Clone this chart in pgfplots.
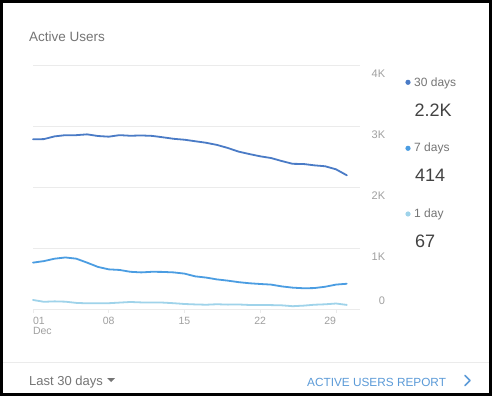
\documentclass[border=0pt]{standalone}
\usepackage{pgfplots}
\pgfplotsset{compat=1.18}
\usepackage{fontspec}
\setmainfont{Liberation Sans}
\definecolor{c30}{HTML}{4A7BC6}
\definecolor{c7}{HTML}{4B9DE2}
\definecolor{c1}{HTML}{9FD3EA}
\definecolor{gridc}{HTML}{EBEBEB}
\definecolor{ticktxt}{HTML}{A0A0A0}
\definecolor{titletxt}{HTML}{757575}
\definecolor{numtxt}{HTML}{424242}
\definecolor{linktxt}{HTML}{5C9BD8}
\begin{document}
\begin{tikzpicture}[x=1pt,y=1pt]
\fill[black] (0,0) rectangle (492,396);
\fill[white] (3,3) rectangle (489,393);
\node[anchor=base west, inner sep=0pt, text=titletxt, font=\fontsize{13.5}{16}\selectfont] at (29,354) {Active Users};
\begin{axis}[
  at={(33pt,87pt)}, anchor=origin,
  scale only axis, width=313.8pt, height=244pt,
  xmin=1, xmax=30, ymin=0, ymax=4000,
  clip=false,
  axis line style={draw=none},
  /pgf/number format/assume math mode=true,
  ytick={1000,2000,3000,4000},
  yticklabels={1K,2K,3K,4K},
  yticklabel pos=right,
  ymajorgrids, major grid style={gridc, line width=0.8pt},
  ytick style={draw=none},
  yticklabel style={anchor=north east, inner sep=0pt, xshift=34.5pt, yshift=-4.5pt, text=ticktxt, font=\fontsize{11}{13}\selectfont},
  extra y ticks={0}, extra y tick labels={0},
  extra y tick style={grid=major, yticklabel style={anchor=base east, yshift=8.5pt}},
  xtick={1,8,15,22,29},
  xtick pos=bottom,
  xticklabels={\makebox[0pt][l]{\shortstack[l]{01\\Dec}},08,15,22,\makebox[0pt][r]{29}},
  xticklabel style={anchor=north, inner sep=0pt, yshift=-4pt, text=ticktxt, font=\fontsize{10.5}{12}\selectfont},
  xtick style={draw=gridc, line width=0.8pt},
  tick align=outside, major tick length=4pt,
  every axis plot/.append style={line width=1.8pt, line join=round, line cap=round, no markers},
]
\addplot[c30] coordinates {(1,2782)(2,2785)(3,2830)(4,2850)(5,2850)(6,2863)(7,2836)(8,2825)(9,2850)(10,2840)(11,2845)(12,2838)(13,2815)(14,2790)(15,2775)(16,2750)(17,2725)(18,2690)(19,2640)(20,2580)(21,2540)(22,2503)(23,2475)(24,2425)(25,2380)(26,2377)(27,2355)(28,2340)(29,2290)(30,2192)};
\addplot[c7] coordinates {(1,760)(2,785)(3,825)(4,845)(5,825)(6,760)(7,690)(8,650)(9,640)(10,610)(11,600)(12,610)(13,608)(14,600)(15,580)(16,535)(17,515)(18,485)(19,465)(20,440)(21,422)(22,410)(23,400)(24,370)(25,350)(26,340)(27,343)(28,365)(29,400)(30,414)};
\addplot[c1] coordinates {(1,148)(2,118)(3,125)(4,120)(5,100)(6,93)(7,93)(8,95)(9,105)(10,115)(11,108)(12,108)(13,105)(14,95)(15,82)(16,75)(17,70)(18,78)(19,72)(20,74)(21,66)(22,66)(23,64)(24,60)(25,46)(26,55)(27,70)(28,77)(29,90)(30,67)};
\foreach \v in {0,1000,2000,3000,4000}{
  \edef\tmp{\noexpand\draw[gridc, line width=0.8pt] (axis cs:30,\v) ++(3.5pt,0) -- ++(31pt,0);}\tmp
}
\end{axis}
% legend
\fill[c30] (408,313.7) circle (2.6);
\node[anchor=base west, inner sep=0pt, text=titletxt, font=\fontsize{12}{14}\selectfont] at (414,309.5) {30 days};
\node[anchor=base west, inner sep=0pt, text=numtxt, font=\fontsize{18}{20}\selectfont] at (414.5,279.5) {2.2K};
\fill[c7] (408,247.7) circle (2.6);
\node[anchor=base west, inner sep=0pt, text=titletxt, font=\fontsize{12}{14}\selectfont] at (414,244) {7 days};
\node[anchor=base west, inner sep=0pt, text=numtxt, font=\fontsize{18}{20}\selectfont] at (415,214) {414};
\fill[c1] (408,182) circle (2.6);
\node[anchor=base west, inner sep=0pt, text=titletxt, font=\fontsize{12}{14}\selectfont] at (414,178.5) {1 day};
\node[anchor=base west, inner sep=0pt, text=numtxt, font=\fontsize{18}{20}\selectfont] at (415,148.5) {67};
% footer
\draw[gridc, line width=0.8pt] (3,34) -- (489,34);
\node[anchor=base west, inner sep=0pt, text=titletxt, font=\fontsize{13}{15}\selectfont] at (29,11) {Last 30 days};
\fill[titletxt] (107,18) -- (115,18) -- (111,14) -- cycle;
\node[anchor=base west, inner sep=0pt, text=linktxt, font=\fontsize{11.8}{14}\selectfont] at (307,10) {ACTIVE USERS REPORT};
\draw[linktxt, line width=1.7pt, line cap=round, line join=round] (465,20.5) -- (470,15.5) -- (465,10.5);
\end{tikzpicture}
\end{document}
